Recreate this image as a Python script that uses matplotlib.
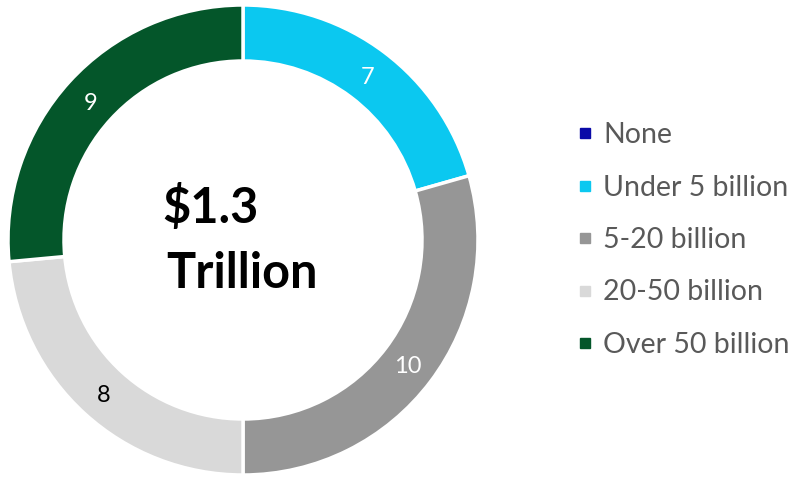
import matplotlib
matplotlib.use("Agg")
import matplotlib.pyplot as plt
from matplotlib.lines import Line2D
import numpy as np

categories = ["None", "Under 5 billion", "5-20 billion", "20-50 billion", "Over 50 billion"]
values = [0, 7, 10, 8, 9]
colors = ["#0A0AA8", "#0BC8F0", "#969696", "#D9D9D9", "#04562A"]
label_colors = ["white", "white", "white", "black", "white"]
center_line1 = "$1.3"
center_line2 = "Trillion"

plt.rcParams['font.family'] = ['Lato', 'DejaVu Sans']

W, H = 797, 479
fig = plt.figure(figsize=(W/100, H/100), dpi=100)
cx, cy, R = 243, 240, 235
ax = fig.add_axes([(cx-R)/W, (H-cy-R)/H, 2*R/W, 2*R/H])

wedges, _ = ax.pie(values, colors=colors, startangle=90, counterclock=False,
                   radius=1.0, wedgeprops=dict(width=56/235, edgecolor="white", linewidth=2.5))
ax.set_xlim(-1, 1); ax.set_ylim(-1, 1)
ax.set_aspect('equal')

total = sum(values)
cum = 0
for v, lc in zip(values, label_colors):
    if v > 0:
        mid = 90 - (cum + v/2)/total*360
        r = 0.88
        ax.text(r*np.cos(np.radians(mid)), r*np.sin(np.radians(mid)) - 0.01, str(v),
                ha='center', va='center', color=lc, fontsize=17)
    cum += v

def px(x, y):
    return (x - cx)/R, (cy - y)/R

ax.text(*px(162, 223), center_line1, ha='left', va='baseline', fontsize=35,
        fontweight='bold', color='black')
ax.text(*px(166, 288), center_line2, ha='left', va='baseline', fontsize=35,
        fontweight='bold', color='black')

handles = [Line2D([], [], marker='s', linestyle='none', markersize=7.5,
                  markerfacecolor=c, markeredgecolor=c) for c in colors]
leg = fig.legend(handles, categories, loc='center left',
                 bbox_to_anchor=(559/W, 1-240/H), frameon=False,
                 fontsize=20.5, labelcolor='#595959', handletextpad=0.25,
                 labelspacing=0.93, handlelength=0.8, borderpad=0)

fig.savefig("out.png", dpi=100)
